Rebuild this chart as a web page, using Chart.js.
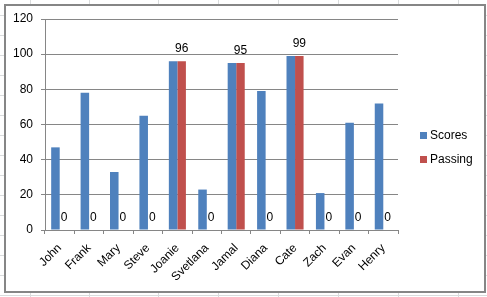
<!DOCTYPE html>
<html>
<head>
<meta charset="utf-8">
<script src="https://cdn.jsdelivr.net/npm/chart.js"></script>
<style>
html,body{margin:0;padding:0;background:#fff;}
canvas{display:block;}
</style>
</head>
<body>
<canvas id="mychart" width="487" height="297"></canvas>
<script>
'use strict';
const names=['John','Frank','Mary','Steve','Joanie','Svetlana','Jamal','Diana','Cate','Zach','Evan','Henry'];
const scores=[47,78,33,65,96,23,95,79,99,21,61,72];
const passing=[0,0,0,0,96,0,95,0,99,0,0,0];
const yTicks=[0,20,40,60,80,100,120];

Chart.defaults.font.family='"Liberation Sans", Arial, sans-serif';
Chart.defaults.font.size=12;
Chart.defaults.color='#000';

// spreadsheet cells behind the chart + chart frame
const sheet={id:'sheet',beforeDraw(c){
  const x=c.ctx;
  x.save();
  x.fillStyle='#fff';
  x.fillRect(0,0,c.width,c.height);
  x.strokeStyle='#dadcdd';
  x.lineWidth=1;
  x.beginPath();
  [30,89,158,218,278,338,398,458].forEach(v=>{x.moveTo(v+.5,0);x.lineTo(v+.5,c.height);});
  for(let y=15;y<c.height;y+=20){x.moveTo(0,y+.5);x.lineTo(c.width,y+.5);}
  x.stroke();
  x.fillStyle='#fff';
  x.fillRect(5,5,480,287);
  x.strokeStyle='#868686';
  x.lineWidth=2;
  x.strokeRect(5,5,480,287);
  x.restore();
}};

// value labels on the Passing series
const barlabels={id:'barlabels',afterDatasetsDraw(c){
  const x=c.ctx;
  const meta=c.getDatasetMeta(1);
  x.save();
  x.font='12px "Liberation Sans"';
  x.fillStyle='#000';
  x.textAlign='center';
  x.textBaseline='alphabetic';
  meta.data.forEach((b,i)=>{x.fillText(String(passing[i]),b.x,b.y-9);});
  x.restore();
}};

// legend at the right, Excel style
const sidelegend={id:'sidelegend',afterDraw(c){
  const x=c.ctx;
  x.save();
  x.font='12px "Liberation Sans"';
  x.textBaseline='middle';
  c.data.datasets.forEach((d,i)=>{
    const y=136+i*24;
    x.fillStyle=d.backgroundColor;
    x.fillRect(420,y-4,7,7);
    x.fillStyle='#000';
    x.fillText(d.label,430,y);
  });
  x.restore();
}};

let mychart=document.getElementById('mychart').getContext('2d');
let barchart=new Chart(mychart,{
  type:'bar',
  data:{
    labels:names,
    datasets:[
      {label:'Scores',data:scores,backgroundColor:'#4f81bd',categoryPercentage:0.58,barPercentage:1},
      {label:'Passing',data:passing,backgroundColor:'#c0504d',categoryPercentage:0.58,barPercentage:1}
    ]
  },
  options:{
    responsive:false,
    animation:false,
    devicePixelRatio:1,
    layout:{padding:{left:13,top:19,right:89,bottom:0}},
    plugins:{legend:{display:false},tooltip:{enabled:false}},
    scales:{
      x:{
        grid:{offset:true,drawOnChartArea:false,color:'#868686',tickLength:4},
        border:{color:'#868686'},
        ticks:{minRotation:45,maxRotation:45,padding:7,autoSkip:false},
        afterFit(s){s.height=67;}
      },
      y:{
        min:0,max:120,
        afterBuildTicks(s){s.ticks=yTicks.map(v=>({value:v}));},
        ticks:{padding:8},
        grid:{color:'#868686',tickLength:4},
        border:{color:'#868686'},
        afterFit(s){s.width=32;}
      }
    }
  },
  plugins:[sheet,barlabels,sidelegend]
});
</script>
</body>
</html>
